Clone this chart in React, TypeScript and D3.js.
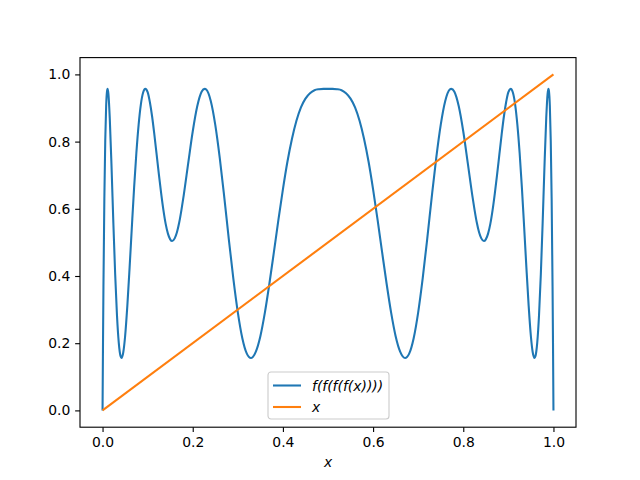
import { useEffect, useRef } from 'react';
import * as d3 from 'd3';

// samples of the composed curve
const xSamples = [
  0, 0.001, 0.002, 0.004, 0.006, 0.008, 0.01, 0.0111, 0.013, 0.016, 0.02, 0.024, 0.028, 0.032, 0.036, 0.04, 0.0421,
  0.046, 0.05, 0.055, 0.06, 0.065, 0.07, 0.075, 0.08, 0.085, 0.09, 0.0949, 0.1, 0.105, 0.11, 0.115, 0.12, 0.125,
  0.13, 0.135, 0.14, 0.145, 0.15, 0.1544, 0.16, 0.165, 0.17, 0.175, 0.18, 0.19, 0.2, 0.21, 0.22, 0.2265, 0.23, 0.24,
  0.25, 0.26, 0.27, 0.28, 0.29, 0.3, 0.31, 0.32, 0.3291, 0.34, 0.35, 0.36, 0.37, 0.38, 0.39, 0.4, 0.41, 0.42, 0.43,
  0.44, 0.45, 0.46, 0.47, 0.48, 0.49, 0.5,
  0.51, 0.52, 0.53, 0.54, 0.55, 0.56, 0.57, 0.58, 0.59, 0.6, 0.61, 0.62, 0.63, 0.64, 0.65, 0.66, 0.6709, 0.68, 0.69,
  0.7, 0.71, 0.72, 0.73, 0.74, 0.75, 0.76, 0.77, 0.7735, 0.78, 0.79, 0.8, 0.81, 0.82, 0.825, 0.83, 0.835, 0.84,
  0.8456, 0.85, 0.855, 0.86, 0.865, 0.87, 0.875, 0.88, 0.885, 0.89, 0.895, 0.9, 0.9051, 0.91, 0.915, 0.92, 0.925,
  0.93, 0.935, 0.94, 0.945, 0.95, 0.954, 0.9579, 0.96, 0.964, 0.968, 0.972, 0.976, 0.98, 0.984, 0.987, 0.9889, 0.99,
  0.992, 0.994, 0.996, 0.998, 0.999, 1,
];

const composedValues = [
  0, 0.199, 0.369, 0.63, 0.803, 0.906, 0.951, 0.957, 0.942, 0.87, 0.723, 0.557, 0.405, 0.283, 0.201, 0.161, 0.156,
  0.173, 0.22, 0.312, 0.425, 0.546, 0.663, 0.766, 0.85, 0.911, 0.946, 0.957, 0.947, 0.917, 0.874, 0.82, 0.761, 0.702,
  0.646, 0.596, 0.555, 0.526, 0.509, 0.504, 0.512, 0.53, 0.559, 0.597, 0.64, 0.736, 0.83, 0.905, 0.949, 0.957, 0.955,
  0.921, 0.85, 0.751, 0.634, 0.51, 0.393, 0.292, 0.215, 0.169, 0.156, 0.175, 0.221, 0.291, 0.377, 0.471, 0.567,
  0.658, 0.74, 0.808, 0.862, 0.902, 0.928, 0.944, 0.953, 0.956, 0.957, 0.957,
  0.957, 0.956, 0.953, 0.944, 0.928, 0.902, 0.862, 0.808, 0.74, 0.658, 0.567, 0.471, 0.377, 0.291, 0.221, 0.175,
  0.156, 0.169, 0.215, 0.292, 0.393, 0.51, 0.634, 0.751, 0.85, 0.921, 0.955, 0.957, 0.949, 0.905, 0.83, 0.736, 0.64,
  0.597, 0.559, 0.53, 0.512, 0.504, 0.509, 0.526, 0.555, 0.596, 0.646, 0.702, 0.761, 0.82, 0.874, 0.917, 0.947,
  0.957, 0.946, 0.911, 0.85, 0.766, 0.663, 0.546, 0.425, 0.312, 0.22, 0.173, 0.156, 0.161, 0.201, 0.283, 0.405,
  0.557, 0.723, 0.87, 0.942, 0.957, 0.951, 0.906, 0.803, 0.63, 0.369, 0.199, 0,
];

const identityX = [0, 1];
const identityY = [0, 1];

const xTicks = [0, 0.2, 0.4, 0.6, 0.8, 1.0];
const yTicks = [0, 0.2, 0.4, 0.6, 0.8, 1.0];

const seriesNames = ['f(f(f(f(x))))', 'x'];
const colors = ['#1f77b4', '#ff7f0e'];

export default function App() {
  const svgRef = useRef<SVGSVGElement>(null);

  useEffect(() => {
    if (!svgRef.current) return;
    const width = 640;
    const height = 480;
    const margin = { top: 57.6, right: 64, bottom: 52.8, left: 80 };
    const font = 'DejaVu Sans, sans-serif';
    const lw = 2.08;

    const svg = d3.select(svgRef.current);
    svg.selectAll('*').remove();
    svg.attr('width', width).attr('height', height);

    svg.append('rect').attr('width', width).attr('height', height).attr('fill', '#fff');

    const x = d3.scaleLinear().domain([-0.05, 1.05]).range([margin.left, width - margin.right]);
    const y = d3.scaleLinear().domain([-0.05, 1.05]).range([height - margin.bottom, margin.top]);

    const plot = svg.append('g');

    // Lines
    const line = d3
      .line<[number, number]>()
      .x((d) => x(d[0]))
      .y((d) => y(d[1]))
      .curve(d3.curveMonotoneX);

    plot
      .append('path')
      .datum(xSamples.map((v, i) => [v, composedValues[i]] as [number, number]))
      .attr('fill', 'none')
      .attr('stroke', colors[0])
      .attr('stroke-width', lw)
      .attr('stroke-linejoin', 'round')
      .attr('d', line);

    plot
      .append('path')
      .datum(identityX.map((v, i) => [v, identityY[i]] as [number, number]))
      .attr('fill', 'none')
      .attr('stroke', colors[1])
      .attr('stroke-width', lw)
      .attr('d', line);

    // X axis
    const xAxis = svg
      .append('g')
      .attr('transform', `translate(0,${height - margin.bottom})`)
      .call(d3.axisBottom(x).tickValues(xTicks).tickFormat(d3.format('.1f')).tickSizeOuter(0).tickSize(4.86).tickPadding(4.86));
    xAxis.select('.domain').remove();

    // Y axis
    const yAxis = svg
      .append('g')
      .attr('transform', `translate(${margin.left},0)`)
      .call(d3.axisLeft(y).tickValues(yTicks).tickFormat(d3.format('.1f')).tickSizeOuter(0).tickSize(4.86).tickPadding(4.86));
    yAxis.select('.domain').remove();

    [xAxis, yAxis].forEach((ax) => {
      ax.selectAll('line').attr('stroke', '#000').attr('stroke-width', 1.11);
      ax.selectAll('text').attr('fill', '#000').style('font-family', font).style('font-size', '13.9px');
    });

    // Frame
    svg
      .append('rect')
      .attr('x', margin.left)
      .attr('y', margin.top)
      .attr('width', width - margin.left - margin.right)
      .attr('height', height - margin.top - margin.bottom)
      .attr('fill', 'none')
      .attr('stroke', '#000')
      .attr('stroke-width', 1.11);

    // X label
    svg
      .append('text')
      .attr('x', (margin.left + width - margin.right) / 2)
      .attr('y', 467)
      .attr('text-anchor', 'middle')
      .style('font-family', font)
      .style('font-size', '13.9px')
      .style('font-style', 'italic')
      .text('x');

    // Legend
    const lg = svg.append('g').attr('transform', 'translate(268,372)');
    lg.append('rect')
      .attr('width', 121)
      .attr('height', 47)
      .attr('rx', 3)
      .attr('fill', '#fff')
      .attr('fill-opacity', 0.8)
      .attr('stroke', '#ccc')
      .attr('stroke-width', 1.11);

    seriesNames.forEach((name, i) => {
      const cy = 13.5 + i * 21.5;
      lg.append('line')
        .attr('x1', 5)
        .attr('x2', 33)
        .attr('y1', cy)
        .attr('y2', cy)
        .attr('stroke', colors[i])
        .attr('stroke-width', lw);
      lg.append('text')
        .attr('x', 44)
        .attr('y', cy + 5)
        .style('font-family', font)
        .style('font-size', '13.9px')
        .style('font-style', 'italic')
        .text(name);
    });
  }, []);

  return <svg ref={svgRef} style={{ position: 'absolute', left: 0, top: 0 }} />;
}
